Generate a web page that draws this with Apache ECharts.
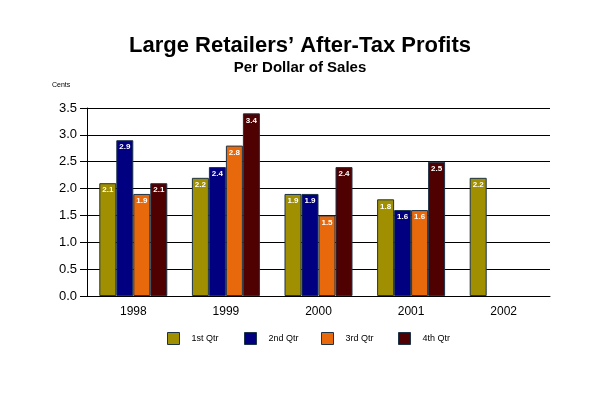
<!DOCTYPE html>
<html style="height: 100%">
<head>
<meta charset="utf-8">
<script src="https://cdn.jsdelivr.net/npm/echarts@6/dist/echarts.min.js"></script>
</head>
<body style="height: 100%; margin: 0; background: #fff">
<div id="container" style="width: 600px; height: 400px"></div>
<script type="text/javascript">
var years = ['1998', '1999', '2000', '2001', '2002'];
var qtrNames = ['1st Qtr', '2nd Qtr', '3rd Qtr', '4th Qtr'];
var qtr1 = [2.1, 2.2, 1.9, 1.8, 2.2];
var qtr2 = [2.9, 2.4, 1.9, 1.6, null];
var qtr3 = [1.9, 2.8, 1.5, 1.6, null];
var qtr4 = [2.1, 3.4, 2.4, 2.5, null];
var qtrColors = ['#a08f00', '#000080', '#e8680c', '#4f0000'];

var font = 'Liberation Sans, Arial, sans-serif';
var myChart = echarts.init(document.getElementById('container'));

var series = [qtr1, qtr2, qtr3, qtr4].map(function (vals, i) {
    return {
        name: qtrNames[i],
        type: 'bar',
        data: vals,
        barWidth: 17,
        barGap: 0,
        itemStyle: {
            color: qtrColors[i],
            borderColor: '#1c3348',
            borderWidth: 1
        },
        label: {
            show: true,
            position: 'insideTop',
            distance: 3,
            color: '#fff',
            fontFamily: font,
            fontWeight: 'bold',
            fontSize: 8,
            formatter: function (p) { return p.value.toFixed(1); }
        }
    };
});

// one legend per quarter so the spacing matches the original
var legends = qtrNames.map(function (name, i) {
    return {
        data: [name],
        left: 167 + i * 77,
        top: 332,
        padding: 0,
        icon: 'rect',
        itemWidth: 12,
        itemHeight: 12,
        itemGap: 0,
        itemStyle: { borderColor: '#1c3348', borderWidth: 1 },
        textStyle: { fontFamily: font, fontSize: 9, color: '#000', padding: [0, 0, 0, 7] }
    };
});

var option = {
    animation: false,
    title: {
        text: 'Large Retailers\u2019 After-Tax Profits',
        subtext: 'Per Dollar of Sales',
        left: 'center',
        top: 30,
        itemGap: 3,
        textStyle: { fontFamily: font, fontWeight: 'bold', fontSize: 22, color: '#000' },
        subtextStyle: { fontFamily: font, fontWeight: 'bold', fontSize: 15, color: '#000' }
    },
    graphic: [{
        type: 'text',
        left: 52,
        top: 82,
        style: { text: 'Cents', font: '7px ' + font, fill: '#000' }
    }],
    legend: legends,
    grid: { left: 87, right: 50, top: 108, bottom: 104 },
    xAxis: {
        type: 'category',
        data: years,
        axisLine: { lineStyle: { color: '#000', width: 1 } },
        axisTick: { alignWithLabel: true, length: 4, lineStyle: { color: '#f0b080' } },
        axisLabel: { color: '#000', fontFamily: font, fontSize: 12, margin: 10 }
    },
    yAxis: {
        type: 'value',
        min: 0,
        max: 3.5,
        interval: 0.5,
        axisLine: { show: true, lineStyle: { color: '#000' } },
        axisTick: { show: true, length: 7, lineStyle: { color: '#000' } },
        splitLine: { lineStyle: { color: '#000', width: 1 } },
        axisLabel: {
            color: '#000',
            fontFamily: font,
            fontSize: 13,
            margin: 10,
            formatter: function (v) { return v.toFixed(1); }
        }
    },
    series: series
};

myChart.setOption(option);
</script>
</body>
</html>
